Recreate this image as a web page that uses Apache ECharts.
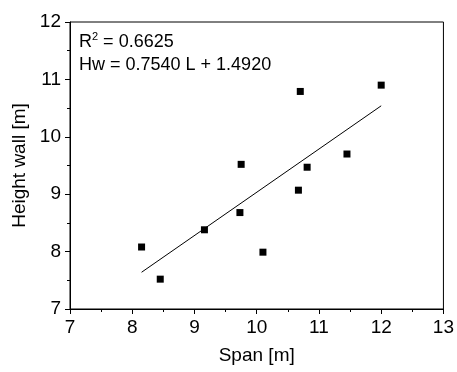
<!DOCTYPE html>
<html>
<head>
<meta charset="utf-8">
<script src="https://cdn.jsdelivr.net/npm/echarts@6/dist/echarts.min.js"></script>
<style>
  html, body { margin: 0; padding: 0; background: #fff; }
  #chart { width: 457px; height: 372px; }
</style>
</head>
<body>
<div id="chart"></div>
<script>
// measured points (span, height wall)
const spanVals = [8.15, 8.45, 9.16, 9.73, 9.75, 10.10, 10.67, 10.70, 10.81, 11.45, 12.00]
const heightVals = [8.08, 7.52, 8.38, 8.68, 9.52, 7.99, 9.07, 10.79, 9.47, 9.70, 10.90]
// fitted line end points
const fitX = [8.15, 12.00]
const fitY = [7.64, 10.54]
const xTicks = [7, 8, 9, 10, 11, 12, 13]
const yTicks = [7, 8, 9, 10, 11, 12]
const annotation = ['R{s|2} = 0.6625', 'Hw = 0.7540 L + 1.4920']

const font = 'Liberation Sans'

const option = {
  animation: false,
  backgroundColor: '#fff',
  textStyle: { fontFamily: font },
  grid: {
    left: 70, right: 11, top: 22, bottom: 63,
    show: true, borderColor: '#000', borderWidth: 1
  },
  xAxis: {
    type: 'value',
    min: xTicks[0],
    max: xTicks[xTicks.length - 1],
    interval: 1,
    name: 'Span [m]',
    nameLocation: 'middle',
    nameGap: 37,
    nameTextStyle: { fontSize: 19, color: '#000', fontFamily: font },
    axisLine: { onZero: false, lineStyle: { color: '#000', width: 1 } },
    axisTick: { show: true, inside: false, length: 5, lineStyle: { color: '#000' } },
    minorTick: { show: true, splitNumber: 2, length: 3, lineStyle: { color: '#000' } },
    axisLabel: { fontSize: 19, color: '#000', margin: 9, fontFamily: font },
    splitLine: { show: false }
  },
  yAxis: {
    type: 'value',
    min: yTicks[0],
    max: yTicks[yTicks.length - 1],
    interval: 1,
    name: 'Height wall [m]',
    nameLocation: 'middle',
    nameGap: 40,
    nameTextStyle: { fontSize: 19, color: '#000', fontFamily: font },
    axisLine: { show: true, onZero: false, lineStyle: { color: '#000', width: 1 } },
    axisTick: { show: true, inside: false, length: 5, lineStyle: { color: '#000' } },
    minorTick: { show: true, splitNumber: 2, length: 3, lineStyle: { color: '#000' } },
    axisLabel: { fontSize: 19, color: '#000', margin: 9, fontFamily: font },
    splitLine: { show: false }
  },
  graphic: [
    {
      type: 'text',
      left: 79,
      top: 31,
      style: {
        text: annotation.join('\n'),
        font: '18px "Liberation Sans"',
        fill: '#000',
        lineHeight: 23,
        rich: {
          s: { fontSize: 11, fontFamily: font, verticalAlign: 'top', lineHeight: 23, padding: [0, 0, 8, 0] }
        }
      }
    }
  ],
  series: [
    {
      type: 'line',
      data: fitX.map((x, i) => [x, fitY[i]]),
      showSymbol: false,
      symbol: 'none',
      lineStyle: { color: '#000', width: 1 },
      z: 2
    },
    {
      type: 'scatter',
      data: spanVals.map((x, i) => [x, heightVals[i]]),
      symbol: 'rect',
      symbolSize: 7,
      itemStyle: { color: '#000', opacity: 1 },
      z: 3
    }
  ]
}

const chart = echarts.init(document.getElementById('chart'))
chart.setOption(option)
</script>
</body>
</html>
